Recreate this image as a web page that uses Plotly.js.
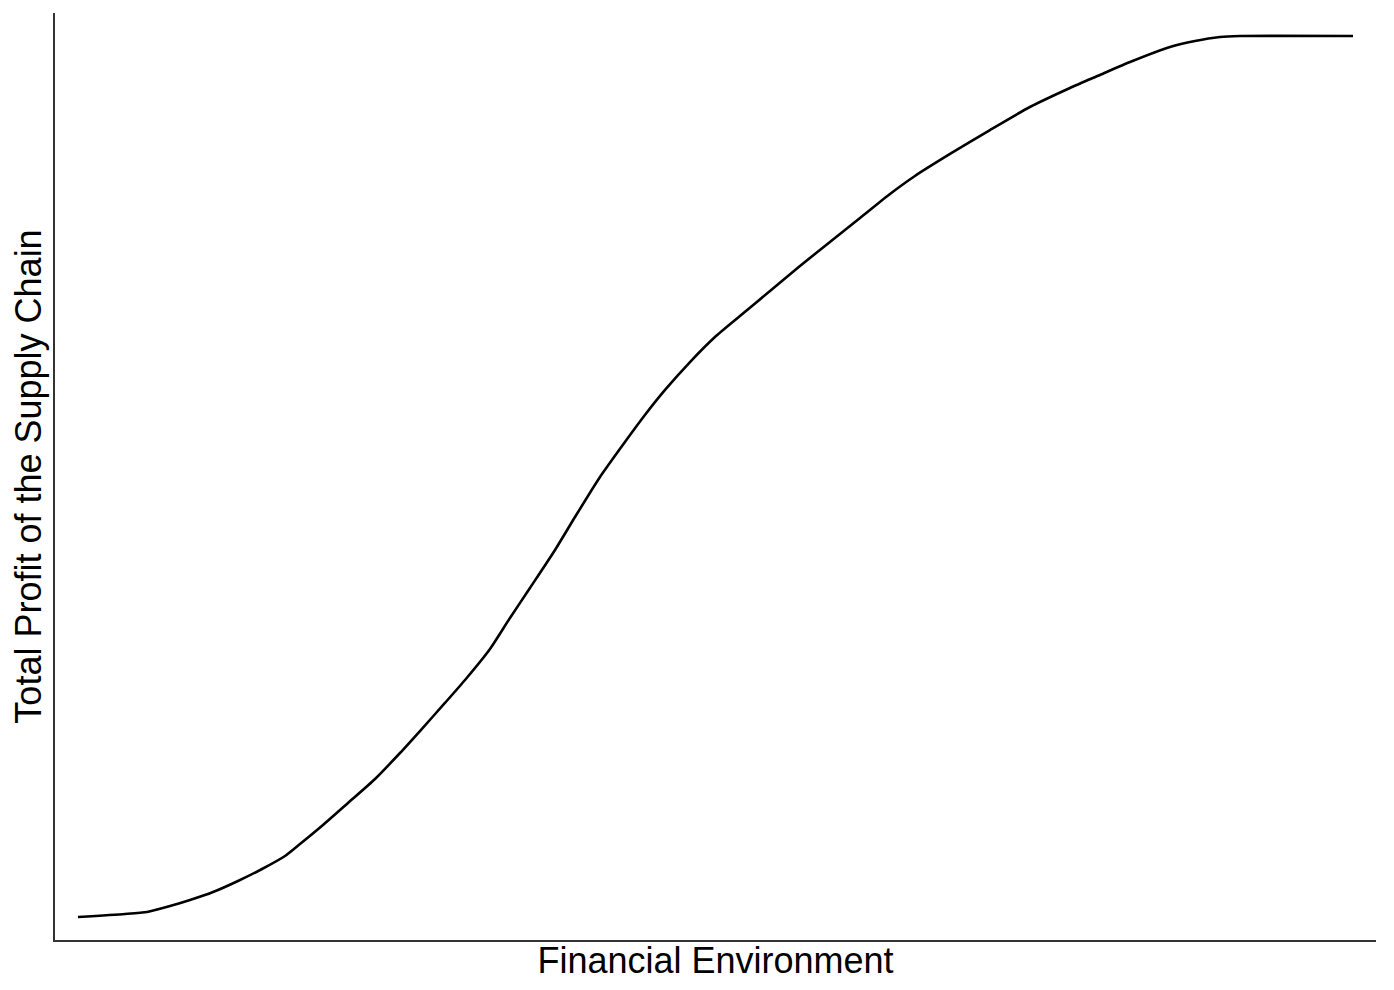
<!DOCTYPE html>
<html>
<head>
<meta charset="utf-8">
<script src="https://cdn.plot.ly/plotly-3.0.1.min.js"></script>
<style>
  html, body { margin: 0; padding: 0; background: #fff; }
  #chart { width: 1394px; height: 990px; }
</style>
</head>
<body>
<div id="chart"></div>
<script>
// financial environment (relative units, 0-100)
var envLevel = [1.67, 5.25, 6.93, 8.68, 10.20, 11.95, 13.85, 15.68, 17.43, 18.57,
  20.32, 22.22, 24.28, 26.18, 27.70, 29.60, 31.13, 33.03, 34.55, 36.07,
  37.98, 39.50, 41.40, 43.30, 44.82, 46.35, 48.25, 50.15, 52.05, 54.34,
  56.62, 58.90, 61.19, 63.47, 65.37, 68.04, 71.08, 74.12, 77.17, 79.45,
  81.74, 84.78, 86.68, 88.58, 90.11, 98.71];

// total profit of the supply chain (relative units, 0-100)
var totalProfit = [2.48, 2.80, 3.02, 3.66, 4.31, 5.17, 6.36, 7.65, 9.05, 10.34,
  12.39, 14.76, 17.35, 20.15, 22.52, 25.54, 28.02, 31.36, 34.70, 37.93,
  42.03, 45.58, 49.89, 53.66, 56.57, 59.27, 62.28, 64.98, 67.24, 69.94,
  72.63, 75.22, 77.80, 80.39, 82.33, 84.70, 87.28, 89.76, 91.81, 93.21,
  94.61, 96.23, 96.88, 97.31, 97.41, 97.41];

var trace = {
  x: envLevel,
  y: totalProfit,
  type: 'scatter',
  mode: 'lines',
  line: {color: '#000', width: 2.6, shape: 'spline', smoothing: 0.6},
  hoverinfo: 'skip'
};

var axisFont = {family: 'Liberation Sans, Arial, sans-serif', size: 36, color: '#000'};

var layout = {
  width: 1394,
  height: 990,
  paper_bgcolor: '#fff',
  plot_bgcolor: '#fff',
  showlegend: false,
  margin: {l: 55, r: 18, t: 13, b: 50},
  xaxis: {
    range: [-0.076, 100.46],
    showgrid: false, zeroline: false, showticklabels: false, ticks: '',
    showline: true, linecolor: '#333', linewidth: 2,
    title: {text: 'Financial Environment', font: axisFont, standoff: 7}
  },
  yaxis: {
    range: [0, 99.89],
    showgrid: false, zeroline: false, showticklabels: false, ticks: '',
    showline: true, linecolor: '#333', linewidth: 2,
    title: {text: 'Total Profit of the Supply Chain', font: axisFont, standoff: 0}
  }
};

var config = {responsive: false, displayModeBar: false, staticPlot: true};

Plotly.newPlot('chart', [trace], layout, config);
</script>
</body>
</html>
